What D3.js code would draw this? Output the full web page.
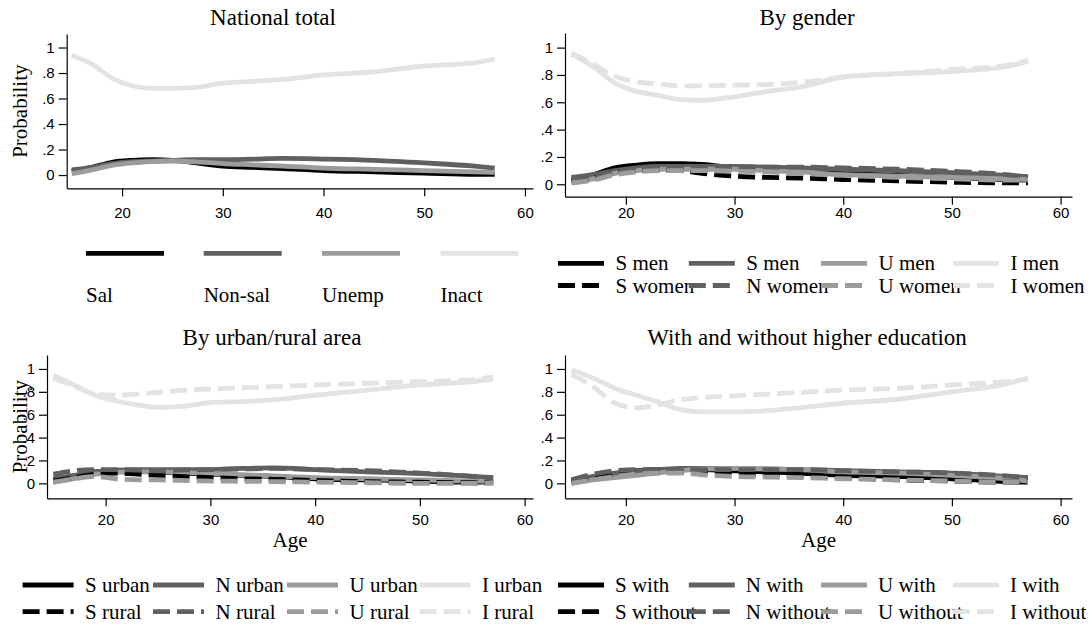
<!DOCTYPE html>
<html>
<head>
<meta charset="utf-8">
<script src="https://cdn.jsdelivr.net/npm/d3@7"></script>
<style>
  body { margin: 0; background: #fff; }
  svg { display: block; }
  .serif { font-family: "Liberation Serif", "DejaVu Serif", serif; fill: #000; }
  .tick text { font-family: "Liberation Sans", Arial, sans-serif; }
</style>
</head>
<body>
<svg id="chart" width="1092" height="628"></svg>
<script>
// ages at which the smoothed curves were read
const ages = [15, 17, 19, 21, 23, 25, 27, 30, 33, 36, 40, 45, 50, 55, 57];
const xTicks = [20, 30, 40, 50, 60];
const yTicks = [0, 0.2, 0.4, 0.6, 0.8, 1];

// National total
const natSal    = [0.03, 0.06, 0.10, 0.115, 0.12, 0.115, 0.10, 0.07, 0.06, 0.05, 0.035, 0.025, 0.015, 0.005, 0.005];
const natNonsal = [0.04, 0.06, 0.09, 0.105, 0.11, 0.115, 0.12, 0.12, 0.125, 0.13, 0.125, 0.115, 0.095, 0.07, 0.055];
const natUnemp  = [0.01, 0.04, 0.075, 0.095, 0.105, 0.11, 0.105, 0.09, 0.08, 0.07, 0.055, 0.045, 0.035, 0.025, 0.02];
const natInact  = [0.94, 0.87, 0.76, 0.70, 0.68, 0.68, 0.685, 0.72, 0.735, 0.75, 0.785, 0.81, 0.855, 0.88, 0.91];

// By gender
const sMen   = [0.03, 0.07, 0.12, 0.14, 0.15, 0.15, 0.145, 0.12, 0.11, 0.10, 0.08, 0.065, 0.05, 0.035, 0.03];
const nMen   = [0.05, 0.07, 0.10, 0.12, 0.13, 0.13, 0.13, 0.13, 0.125, 0.12, 0.11, 0.10, 0.085, 0.065, 0.055];
const uMen   = [0.01, 0.04, 0.08, 0.10, 0.11, 0.11, 0.11, 0.11, 0.10, 0.09, 0.07, 0.06, 0.05, 0.04, 0.035];
const iMen   = [0.95, 0.86, 0.74, 0.68, 0.65, 0.62, 0.615, 0.64, 0.68, 0.71, 0.785, 0.81, 0.825, 0.86, 0.90];
const sWomen = [0.02, 0.05, 0.09, 0.10, 0.105, 0.10, 0.08, 0.06, 0.05, 0.045, 0.035, 0.025, 0.015, 0.01, 0.01];
const nWomen = [0.04, 0.06, 0.09, 0.11, 0.12, 0.12, 0.125, 0.125, 0.125, 0.125, 0.12, 0.11, 0.095, 0.07, 0.05];
const uWomen = [0.01, 0.03, 0.07, 0.09, 0.10, 0.10, 0.10, 0.095, 0.09, 0.08, 0.065, 0.05, 0.04, 0.03, 0.03];
const iWomen = [0.96, 0.88, 0.79, 0.75, 0.735, 0.72, 0.72, 0.725, 0.73, 0.745, 0.785, 0.81, 0.84, 0.87, 0.91];

// By urban/rural area
const sUrban = [0.03, 0.06, 0.10, 0.11, 0.105, 0.10, 0.09, 0.08, 0.07, 0.06, 0.04, 0.03, 0.02, 0.01, 0.01];
const nUrban = [0.04, 0.07, 0.10, 0.115, 0.12, 0.12, 0.12, 0.12, 0.13, 0.135, 0.12, 0.10, 0.085, 0.06, 0.05];
const uUrban = [0.01, 0.04, 0.08, 0.095, 0.10, 0.10, 0.095, 0.085, 0.075, 0.065, 0.05, 0.04, 0.03, 0.02, 0.015];
const iUrban = [0.945, 0.86, 0.77, 0.72, 0.685, 0.665, 0.67, 0.705, 0.715, 0.73, 0.77, 0.815, 0.86, 0.89, 0.91];
const sRural = [0.02, 0.05, 0.08, 0.09, 0.08, 0.07, 0.06, 0.05, 0.04, 0.035, 0.025, 0.015, 0.01, 0.005, 0.005];
const nRural = [0.08, 0.11, 0.12, 0.12, 0.115, 0.11, 0.115, 0.12, 0.125, 0.13, 0.12, 0.11, 0.09, 0.06, 0.045];
const uRural = [0.01, 0.04, 0.06, 0.04, 0.03, 0.03, 0.025, 0.02, 0.018, 0.015, 0.01, 0.005, 0.0, 0.0, 0.005];
const iRural = [0.92, 0.85, 0.78, 0.77, 0.78, 0.795, 0.81, 0.825, 0.835, 0.845, 0.86, 0.875, 0.89, 0.905, 0.93];

// With and without higher education
const sWith    = [0.01, 0.04, 0.08, 0.11, 0.12, 0.12, 0.12, 0.11, 0.10, 0.09, 0.07, 0.06, 0.04, 0.015, 0.01];
const nWith    = [0.02, 0.06, 0.09, 0.11, 0.12, 0.13, 0.13, 0.13, 0.125, 0.12, 0.11, 0.10, 0.09, 0.06, 0.05];
const uWith    = [0.0, 0.03, 0.05, 0.07, 0.09, 0.11, 0.125, 0.13, 0.125, 0.12, 0.10, 0.09, 0.07, 0.04, 0.02];
const iWith    = [0.99, 0.92, 0.83, 0.77, 0.71, 0.645, 0.625, 0.625, 0.635, 0.66, 0.70, 0.735, 0.80, 0.87, 0.92];
const sWithout = [0.02, 0.05, 0.08, 0.095, 0.10, 0.10, 0.10, 0.09, 0.08, 0.07, 0.05, 0.03, 0.02, 0.01, 0.01];
const nWithout = [0.03, 0.08, 0.11, 0.12, 0.12, 0.12, 0.12, 0.12, 0.12, 0.12, 0.11, 0.10, 0.09, 0.065, 0.05];
const uWithout = [0.0, 0.03, 0.06, 0.08, 0.09, 0.09, 0.075, 0.06, 0.055, 0.05, 0.04, 0.03, 0.02, 0.01, 0.01];
const iWithout = [0.95, 0.845, 0.70, 0.66, 0.685, 0.73, 0.75, 0.765, 0.78, 0.795, 0.815, 0.83, 0.86, 0.89, 0.91];

const shade = ["#000000", "#606060", "#9c9c9c", "#e3e3e3"];
const lineW = 4.8;
const dash = "17,7";

function mk(names, vals, dashed) {
  return names.map((n, i) => ({ name: n, values: vals[i], color: shade[i], dashed: dashed }));
}

const panels = [
  { title: "National total", titleX: 273, titleY: 25, left: 66.7, right: 533, top: 34, bottom: 188.3,
    xDom: [14.5, 60.8], yDom: [-0.104, 1.106], ylab: true, xlab: false, pad: 11,
    series: mk(["Sal", "Non-sal", "Unemp", "Inact"], [natSal, natNonsal, natUnemp, natInact], false),
    legend: "stack" },
  { title: "By gender", titleX: 807, titleY: 25, left: 565, right: 1072, top: 33, bottom: 196.7,
    xDom: [14.4, 61.05], yDom: [-0.091, 1.107], ylab: false, xlab: false, pad: 3,
    series: mk(["S men", "S men", "U men", "I men"], [sMen, nMen, uMen, iMen], false)
      .concat(mk(["S women", "N women", "U women", "I women"], [sWomen, nWomen, uWomen, iWomen], true)),
    legend: { rows: [263.3, 285.5], cols: [558, 688.8, 821, 953], len: 46, gap: 11.5 } },
  { title: "By urban/rural area", titleX: 272, titleY: 345, left: 47, right: 533, top: 355, bottom: 498.3,
    xDom: [14.4, 60.8], yDom: [-0.131, 1.122], ylab: true, xlab: true, pad: 8,
    series: mk(["S urban", "N urban", "U urban", "I urban"], [sUrban, nUrban, uUrban, iUrban], false)
      .concat(mk(["S rural", "N rural", "U rural", "I rural"], [sRural, nRural, uRural, iRural], true)),
    legend: { rows: [585, 611.7], cols: [22.6, 153, 287, 419.6], len: 51, gap: 11.5 } },
  { title: "With and without higher education", titleX: 807, titleY: 345, left: 565, right: 1072, top: 355, bottom: 498.3,
    xDom: [14.4, 61.05], yDom: [-0.131, 1.122], ylab: false, xlab: true, pad: 8,
    series: mk(["S with", "N with", "U with", "I with"], [sWith, nWith, uWith, iWith], false)
      .concat(mk(["S without", "N without", "U without", "I without"], [sWithout, nWithout, uWithout, iWithout], true)),
    legend: { rows: [585, 611.7], cols: [558, 688.8, 821, 953], len: 46, gap: 11 } }
];

const svg = d3.select("#chart");
svg.append("rect").attr("width", 1092).attr("height", 628).attr("fill", "#fff");

const fmtY = d => d === 0 ? "0" : d === 1 ? "1" : d3.format(".1f")(d).replace(/^0/, "");

panels.forEach(p => {
  const g = svg.append("g");
  const x = d3.scaleLinear().domain(p.xDom).range([p.left, p.right]);
  const y = d3.scaleLinear().domain(p.yDom).range([p.bottom, p.top]);

  /** axes */
  const ax = g.append("g").attr("transform", `translate(0,${p.bottom})`)
    .call(d3.axisBottom(x).tickValues(xTicks).tickSize(8).tickPadding(p.pad).tickSizeOuter(0));
  const ay = g.append("g").attr("transform", `translate(${p.left},0)`)
    .call(d3.axisLeft(y).tickValues(yTicks).tickFormat(fmtY).tickSize(8).tickPadding(4).tickSizeOuter(0));
  [ax, ay].forEach(a => {
    a.select(".domain").attr("stroke", "#000").attr("stroke-width", 1.2);
    a.selectAll(".tick line").attr("stroke", "#000").attr("stroke-width", 1.2);
    a.selectAll(".tick text").attr("font-size", 15).attr("fill", "#000");
  });

  /** lines */
  const line = d3.line().curve(d3.curveMonotoneX)
    .x((d, i) => x(ages[i])).y(d => y(d));
  g.selectAll(".lineCharts").data(p.series).join("path")
    .attr("class", "lineCharts")
    .attr("fill", "none")
    .attr("stroke", d => d.color)
    .attr("stroke-width", lineW)
    .attr("stroke-dasharray", d => d.dashed ? dash : null)
    .attr("d", d => line(d.values));

  /** titles */
  g.append("text").attr("class", "serif").attr("x", p.titleX).attr("y", p.titleY)
    .attr("text-anchor", "middle").attr("font-size", 23).text(p.title);
  if (p.ylab) {
    g.append("text").attr("class", "serif")
      .attr("transform", `translate(27,${(p.top + p.bottom) / 2}) rotate(-90)`)
      .attr("text-anchor", "middle").attr("font-size", 21).text("Probability");
  }
  if (p.xlab) {
    g.append("text").attr("class", "serif").attr("x", (p.left + p.right) / 2).attr("y", p.bottom + 49)
      .attr("text-anchor", "middle").attr("font-size", 21).text("Age");
  }

  /** legend */
  if (p.legend === "stack") {
    const cols = [86, 203.7, 322, 440.5];
    const lg = g.selectAll(".leg").data(p.series).join("g").attr("class", "leg");
    lg.append("line").attr("x1", (d, i) => cols[i]).attr("x2", (d, i) => cols[i] + 78)
      .attr("y1", 253.3).attr("y2", 253.3)
      .attr("stroke", d => d.color).attr("stroke-width", lineW);
    lg.append("text").attr("class", "serif").attr("x", (d, i) => cols[i]).attr("y", 302)
      .attr("font-size", 21).text(d => d.name);
  } else {
    const L = p.legend;
    const lg = g.selectAll(".leg").data(p.series).join("g").attr("class", "leg");
    lg.append("line")
      .attr("x1", (d, i) => L.cols[i % 4]).attr("x2", (d, i) => L.cols[i % 4] + L.len)
      .attr("y1", (d, i) => L.rows[Math.floor(i / 4)]).attr("y2", (d, i) => L.rows[Math.floor(i / 4)])
      .attr("stroke", d => d.color).attr("stroke-width", lineW)
      .attr("stroke-dasharray", d => d.dashed ? dash : null);
    lg.append("text").attr("class", "serif")
      .attr("x", (d, i) => L.cols[i % 4] + L.len + L.gap)
      .attr("y", (d, i) => L.rows[Math.floor(i / 4)] + 7)
      .attr("font-size", 21).text(d => d.name);
  }
});
</script>
</body>
</html>
